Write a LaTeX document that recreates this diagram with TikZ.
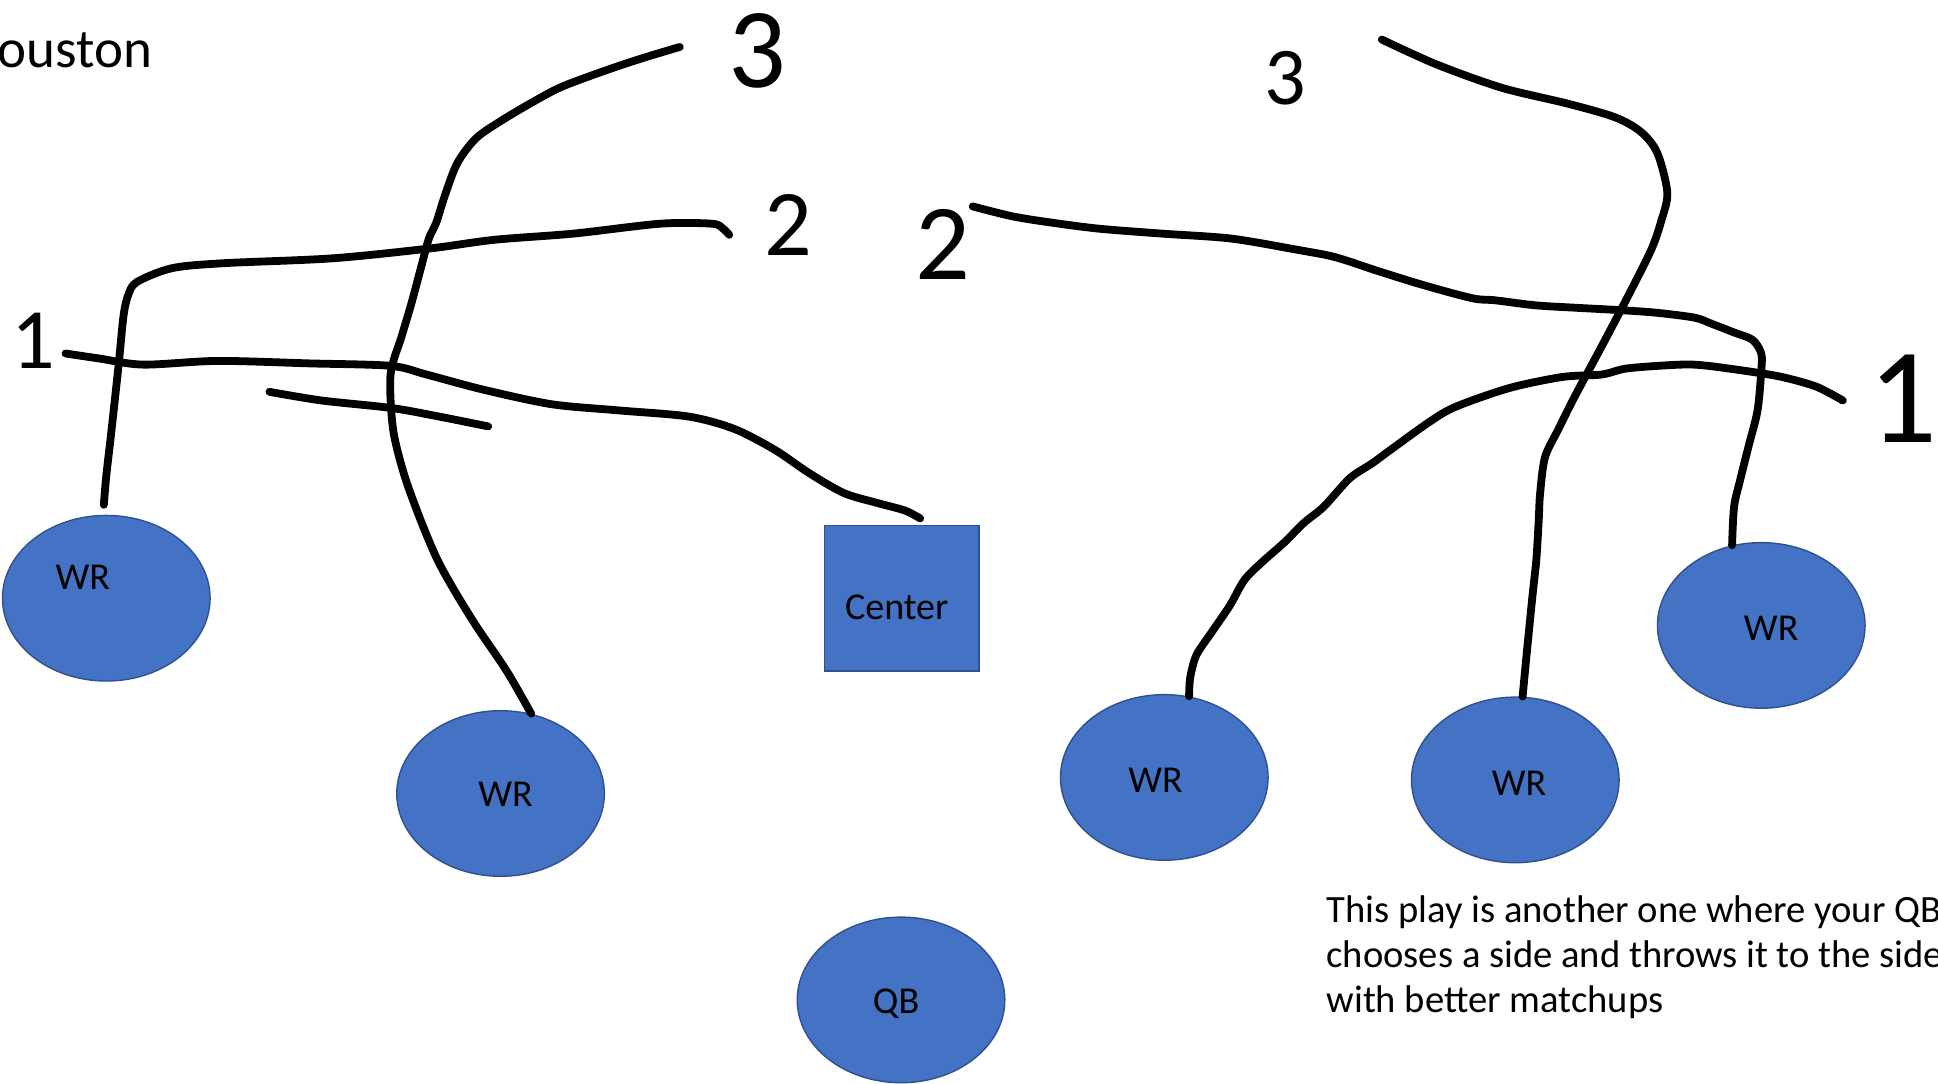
\documentclass[tikz,border=0pt]{standalone}
\usepackage{fontspec}
\setmainfont{Carlito}
\usetikzlibrary{shapes.geometric,calc}
\definecolor{playerblue}{HTML}{4472C4}
\definecolor{playeredge}{HTML}{2F528F}
\begin{document}
\begin{tikzpicture}[x=0.618pt,y=-0.618pt,
    player/.style={ellipse,fill=playerblue,draw=playeredge,line width=0.7pt,minimum width=103.8pt,minimum height=82.8pt,inner sep=0pt},
    tag/.style={inner sep=0pt,font=\fontsize{19}{22}\selectfont},
    route/.style={line width=3.9pt,line cap=round,line join=round},
    digit/.style={inner sep=0pt}]
\useasboundingbox (0,0) rectangle (1568,877);
\clip (0,0) rectangle (1568,877);

\node[anchor=base west,inner sep=0pt,font=\fontsize{27.5}{32}\selectfont] (title) at (-30,55) {Houston};

\node[player,label={[tag,shift={(-19,-17)}]center:WR}] (wr1) at (86,484) {};
\node[player,label={[tag,shift={(4,1)}]center:WR}] (wr2) at (405,642) {};
\node[player,label={[tag,shift={(-7,2)}]center:WR}] (wr3) at (942,629) {};
\node[player,label={[tag,shift={(3,3)}]center:WR}] (wr4) at (1226,631) {};
\node[player,label={[tag,shift={(8,2)}]center:WR}] (wr5) at (1425,506) {};
\node[player,label={[tag,shift={(-4,3)}]center:QB}] (qb) at (729,809) {};
\node[fill=playerblue,draw=playeredge,line width=0.7pt,minimum width=77.3pt,minimum height=72.9pt,inner sep=0pt,label={[tag,shift={(-4,7)}]center:Center}] (center) at (729.5,484) {};

\node[digit,font=\fontsize{43}{43}\selectfont] (n1l) at (27,276) {1};
\node[digit,font=\fontsize{47}{47}\selectfont] (n2l) at (638,182) {2};
\node[digit,font=\fontsize{57}{57}\selectfont] (n3l) at (613,41) {3};
\node[digit,font=\fontsize{41}{41}\selectfont] (n3r) at (1040,63) {3};
\node[digit,font=\fontsize{54}{54}\selectfont] (n2r) at (763,198) {2};
\node[digit,font=\fontsize{68}{68}\selectfont] (n1r) at (1540,323) {1};

\coordinate (s1) at ($(wr1.north)+(-2,-8)$);
\coordinate (sc) at ($(center.north)+(15,-5)$);
\coordinate (end1l) at (53,286);
\coordinate (end2l) at (590,190);
\coordinate (end3l) at (550,38);
\coordinate (end1r) at (1491,324);
\coordinate (end2r) at (787,167);
\coordinate (end3r) at (1118,32);
\coordinate (stubA) at (218,317);
\coordinate (stubB) at (395,345);

\draw[route] plot[smooth,tension=0.5] coordinates {(s1) (86,385) (90,350) (96,295) (100,255) (104,238) (111,228) (139,217) (180,213) (269,209) (348,201) (400,194) (464,189) (534,181) (576,181) (585,185) (end2l)};
\draw[route] plot[smooth,tension=0.5] coordinates {(wr2.69) (410,543) (385,506) (366,475) (353,451) (340,420) (327,384) (318,347) (316,303) (325,272) (333,245) (341,215) (347,193) (353,180) (360,158) (370,132) (385,112) (405,98) (432,82) (455,70) (490,57) (520,47) (end3l)};
\draw[route] plot[smooth,tension=0.5] coordinates {(end1l) (80,290) (116,295) (176,292) (250,294) (316,296) (345,303) (390,315) (446,327) (500,332) (557,337) (594,347) (627,364) (655,383) (683,399) (710,407) (732,413) (sc)};
\draw[route] plot[smooth,tension=0.5] coordinates {(stubA) (260,324) (316,330) (350,336) (stubB)};

\draw[route] plot[smooth,tension=0.5] coordinates {(wr3.73) (963,548) (968,530) (980,512) (995,490) (1007,469) (1022,454) (1039,439) (1055,423) (1071,410) (1092,387) (1110,375) (1125,364) (1157,341) (1178,329) (1221,314) (1264,305) (1296,303) (1317,298) (1360,295) (1382,296) (1425,302) (1446,306) (1470,313) (end1r)};
\draw[route] plot[smooth,tension=0.5] coordinates {(wr4.85) (1235,531) (1240,481) (1243,453) (1245,420) (1246,400) (1250,370) (1261,347) (1274,321) (1296,280) (1317,240) (1336,202) (1344,179) (1349,156) (1341,124) (1328,107) (1307,95) (1269,84) (1215,71) (1162,52) (end3r)};
\draw[route] plot[smooth,tension=0.5] coordinates {(wr5.110) (1403,410) (1408,388) (1415,360) (1422,332) (1425,300) (1425,286) (1418,275) (1403,269) (1385,262) (1371,257) (1340,253) (1312,251) (1275,249) (1242,247) (1210,243) (1195,242) (1178,238) (1146,229) (1114,219) (1080,208) (1049,202) (996,193) (940,189) (889,185) (850,180) (819,175) (end2r)};

\node[anchor=north west,align=left,inner sep=0pt,font=\fontsize{19.3}{22.7}\selectfont] (note) at (1073,724) {This play is another one where your QB\\chooses a side and throws it to the side\\with better matchups};
\end{tikzpicture}
\end{document}
